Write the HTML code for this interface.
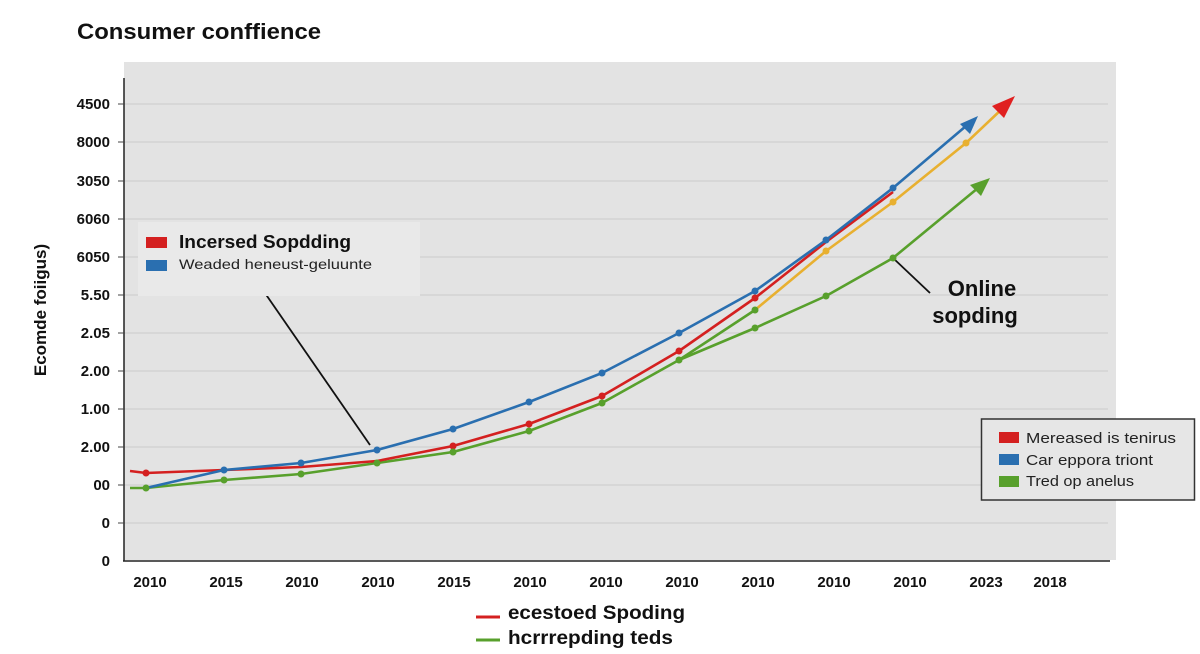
<!DOCTYPE html>
<html><head><meta charset="utf-8"><style>
html,body{margin:0;padding:0;background:#fff;}
svg{display:block;font-family:"Liberation Sans",sans-serif;}
</style></head><body>
<svg width="1200" height="654" viewBox="0 0 1200 654">
<rect x="124" y="62" width="992" height="498" fill="#e3e3e3"/>
<g stroke="#d0d0d0" stroke-width="1.2">
<line x1="124" x2="1108" y1="104" y2="104"/><line x1="124" x2="1108" y1="142" y2="142"/>
<line x1="124" x2="1108" y1="181" y2="181"/><line x1="124" x2="1108" y1="219" y2="219"/>
<line x1="124" x2="1108" y1="257" y2="257"/><line x1="124" x2="1108" y1="295" y2="295"/>
<line x1="124" x2="1108" y1="333" y2="333"/><line x1="124" x2="1108" y1="371" y2="371"/>
<line x1="124" x2="1108" y1="409" y2="409"/><line x1="124" x2="1108" y1="447" y2="447"/>
<line x1="124" x2="1108" y1="485" y2="485"/><line x1="124" x2="1108" y1="523" y2="523"/>
</g>
<g stroke="#222" stroke-width="1.5">
<line x1="124" y1="78" x2="124" y2="561"/><line x1="123" y1="561" x2="1110" y2="561"/>
</g>
<g stroke="#444" stroke-width="1">
<line x1="118" x2="124" y1="104" y2="104"/><line x1="118" x2="124" y1="142" y2="142"/><line x1="118" x2="124" y1="181" y2="181"/><line x1="118" x2="124" y1="219" y2="219"/><line x1="118" x2="124" y1="257" y2="257"/><line x1="118" x2="124" y1="295" y2="295"/><line x1="118" x2="124" y1="333" y2="333"/><line x1="118" x2="124" y1="371" y2="371"/><line x1="118" x2="124" y1="409" y2="409"/><line x1="118" x2="124" y1="447" y2="447"/><line x1="118" x2="124" y1="485" y2="485"/><line x1="118" x2="124" y1="523" y2="523"/>
</g>
<g font-size="15" font-weight="bold" fill="#111" text-anchor="end">
<text x="110" y="109">4500</text><text x="110" y="147">8000</text><text x="110" y="186">3050</text><text x="110" y="224">6060</text><text x="110" y="262">6050</text><text x="110" y="300">5.50</text><text x="110" y="338">2.05</text><text x="110" y="376">2.00</text><text x="110" y="414">1.00</text><text x="110" y="452">2.00</text><text x="110" y="490">00</text><text x="110" y="528">0</text><text x="110" y="566">0</text>
</g>
<g font-size="15" font-weight="bold" fill="#111" text-anchor="middle">
<text x="150" y="587">2010</text><text x="226" y="587">2015</text><text x="302" y="587">2010</text><text x="378" y="587">2010</text><text x="454" y="587">2015</text><text x="530" y="587">2010</text><text x="606" y="587">2010</text><text x="682" y="587">2010</text><text x="758" y="587">2010</text><text x="834" y="587">2010</text><text x="910" y="587">2010</text><text x="986" y="587">2023</text><text x="1050" y="587">2018</text>
</g>
<text x="77" y="39" font-size="22" font-weight="bold" fill="#111" textLength="244" lengthAdjust="spacingAndGlyphs">Consumer conffience</text>
<text transform="translate(46,310) rotate(-90)" font-size="17" font-weight="bold" text-anchor="middle" fill="#111">Ecomde foiigus)</text>

<line x1="258" y1="283" x2="370" y2="445" stroke="#111" stroke-width="1.8"/>
<line x1="893" y1="258" x2="930" y2="293" stroke="#111" stroke-width="1.8"/>

<g fill="none" stroke-width="2.6" stroke-linejoin="round">
<polyline stroke="#e8b030" points="755,310 826,251 893,202 966,143 1003,108"/>
<polyline stroke="#58a02c" points="130,488 146,488 224,480 301,474 377,463 453,452 529,431 602,403 679,360 755,328 826,296 893,258 978,188"/>
<polyline stroke="#58a02c" points="679,360 755,310"/>
<polyline stroke="#d42020" points="130,471 146,473 224,470 301,467 377,461 453,446 529,424 602,396 679,351 755,298 826,242 893,192"/>
<polyline stroke="#2a6fb0" points="146,488 224,470 301,463 377,450 453,429 529,402 602,373 679,333 755,291 826,240 893,188 966,126"/>
</g>
<polygon points="978,116 960,124 970,134" fill="#2a6fb0"/>
<polygon points="1015,96 992,106 1004,118" fill="#e02020"/>
<polygon points="990,178 970,185 981,196" fill="#58a02c"/>
<g fill="#2a6fb0"><circle cx="224" cy="470" r="3.5"/><circle cx="301" cy="463" r="3.5"/><circle cx="377" cy="450" r="3.5"/><circle cx="453" cy="429" r="3.5"/><circle cx="529" cy="402" r="3.5"/><circle cx="602" cy="373" r="3.5"/><circle cx="679" cy="333" r="3.5"/><circle cx="755" cy="291" r="3.5"/><circle cx="826" cy="240" r="3.5"/><circle cx="893" cy="188" r="3.5"/></g>
<g fill="#d42020"><circle cx="146" cy="473" r="3.5"/><circle cx="453" cy="446" r="3.5"/><circle cx="529" cy="424" r="3.5"/><circle cx="602" cy="396" r="3.5"/><circle cx="679" cy="351" r="3.5"/><circle cx="755" cy="298" r="3.5"/></g>
<g fill="#e8b030"><circle cx="826" cy="251" r="3.5"/><circle cx="893" cy="202" r="3.5"/><circle cx="966" cy="143" r="3.5"/></g>
<g fill="#58a02c"><circle cx="146" cy="488" r="3.5"/><circle cx="224" cy="480" r="3.5"/><circle cx="301" cy="474" r="3.5"/><circle cx="377" cy="463" r="3.5"/><circle cx="453" cy="452" r="3.5"/><circle cx="529" cy="431" r="3.5"/><circle cx="602" cy="403" r="3.5"/><circle cx="679" cy="360" r="3.5"/><circle cx="755" cy="310" r="3.5"/><circle cx="755" cy="328" r="3.5"/><circle cx="826" cy="296" r="3.5"/><circle cx="893" cy="258" r="3.5"/></g>

<text x="982" y="296" font-size="22" font-weight="bold" text-anchor="middle" fill="#111">Online</text>
<text x="975" y="323" font-size="22" font-weight="bold" text-anchor="middle" fill="#111">sopding</text>

<rect x="138" y="222" width="282" height="74" fill="#e9e9e9"/>
<rect x="146" y="237" width="21" height="11" fill="#d42020"/>
<text x="179" y="248" font-size="18" font-weight="bold" fill="#111" textLength="172" lengthAdjust="spacingAndGlyphs">Incersed Sopdding</text>
<rect x="146" y="260" width="21" height="11" fill="#2a6fb0"/>
<text x="179" y="269" font-size="14" fill="#222" textLength="193" lengthAdjust="spacingAndGlyphs">Weaded heneust-geluunte</text>

<rect x="981.5" y="419" width="213" height="81" fill="#e6e6e6" stroke="#333" stroke-width="1.5"/>
<rect x="999" y="432" width="20" height="11" fill="#d42020"/><text x="1026" y="443" font-size="15" fill="#222" textLength="150" lengthAdjust="spacingAndGlyphs">Mereased is tenirus</text>
<rect x="999" y="454" width="20" height="11" fill="#2a6fb0"/><text x="1026" y="465" font-size="15" fill="#222" textLength="127" lengthAdjust="spacingAndGlyphs">Car eppora triont</text>
<rect x="999" y="476" width="20" height="11" fill="#58a02c"/><text x="1026" y="486" font-size="15" fill="#222" textLength="108" lengthAdjust="spacingAndGlyphs">Tred op anelus</text>

<line x1="476" y1="617" x2="500" y2="617" stroke="#d42020" stroke-width="3"/>
<text x="508" y="619" font-size="19" font-weight="bold" fill="#111" textLength="177" lengthAdjust="spacingAndGlyphs">ecestoed Spoding</text>
<line x1="476" y1="640" x2="500" y2="640" stroke="#58a02c" stroke-width="3"/>
<text x="508" y="644" font-size="19" font-weight="bold" fill="#111" textLength="165" lengthAdjust="spacingAndGlyphs">hcrrrepding teds</text>
</svg>
</body></html>
